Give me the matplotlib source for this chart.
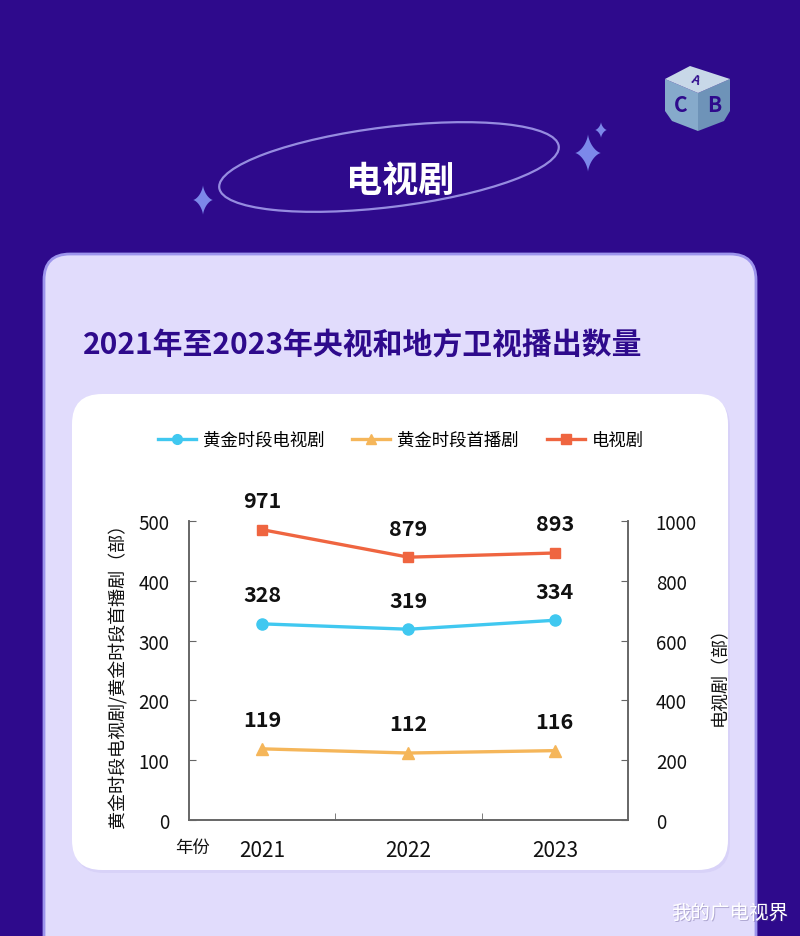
import numpy as np
import matplotlib
matplotlib.use("Agg")
import matplotlib.pyplot as plt
from matplotlib.patches import FancyBboxPatch, Ellipse, Polygon
from matplotlib.lines import Line2D

plt.rcParams["font.family"] = ["Noto Sans CJK SC", "DejaVu Sans"]

# data
years = ["2021", "2022", "2023"]
prime_tv = [328, 319, 334]
prime_premiere = [119, 112, 116]
tv_total = [971, 879, 893]

series_names = ["黄金时段电视剧", "黄金时段首播剧", "电视剧"]
left_ticks = [0, 100, 200, 300, 400, 500]
right_ticks = [0, 200, 400, 600, 800, 1000]

BG = "#2E0A8C"
CARD = "#E1DCFC"
CYAN = "#40C8F0"
GOLD = "#F5B65A"
RED = "#EF6540"

W, H = 800, 937
fig = plt.figure(figsize=(W / 100, H / 100), dpi=100)
fig.patch.set_facecolor(BG)

# background layer in pixel coordinates (y down)
bg = fig.add_axes([0, 0, 1, 1])
bg.set_xlim(0, W)
bg.set_ylim(H, 0)
bg.axis("off")

# lavender card
bg.add_patch(FancyBboxPatch((44, 255), 712, 760, boxstyle="round,pad=0,rounding_size=26",
                            fc=CARD, ec="#9C94EC", lw=2))
# white chart card
bg.add_patch(FancyBboxPatch((74, 398), 656, 476, boxstyle="round,pad=0,rounding_size=30",
                            fc="#D3CCF6", ec="none", alpha=0.6))
bg.add_patch(FancyBboxPatch((72, 395), 656, 476, boxstyle="round,pad=0,rounding_size=30",
                            fc="white", ec="none"))

# header ellipse and sparkles
bg.add_patch(Ellipse((389, 168), 342, 80, angle=-7, fill=False, ec="#A9A4F0", lw=1.6, alpha=0.85))
bg.text(400, 181, "电视剧", color="white", fontsize=26, fontweight="bold", ha="center", va="center")


def sparkle(cx, cy, ry, rx):
    # four pointed star with pinched sides
    t = np.linspace(0, 2 * np.pi, 200)
    px = cx + rx * np.sign(np.cos(t)) * np.abs(np.cos(t)) ** 3
    py = cy + ry * np.sign(np.sin(t)) * np.abs(np.sin(t)) ** 3
    bg.add_patch(Polygon(np.column_stack([px, py]), closed=True, fc="#7C88EA", ec="none"))


sparkle(203, 201, 15, 10)
sparkle(588, 154, 19, 13)
sparkle(601, 131, 8, 6)

# logo (rough block shape)
bg.add_patch(Polygon([(665, 80), (698, 94), (698, 132), (672, 122), (665, 112)], fc="#86AACB", ec="none"))
bg.add_patch(Polygon([(698, 94), (730, 80), (730, 112), (724, 122), (698, 132)], fc="#6E93B8", ec="none"))
bg.add_patch(Polygon([(665, 80), (690, 67), (730, 80), (698, 94)], fc="#C8D8E8", ec="none"))
bg.text(681, 106, "C", color=BG, fontsize=15, fontweight="bold", ha="center", va="center")
bg.text(714, 106, "B", color=BG, fontsize=15, fontweight="bold", ha="center", va="center")
bg.text(695, 80, "A", color=BG, fontsize=9, fontweight="bold", ha="center", va="center", rotation=-20)

# chart title
bg.text(83, 346, "2021年至2023年央视和地方卫视播出数量", color=BG, fontsize=21.5,
        fontweight="bold", ha="left", va="center")

# watermark
bg.text(731, 914, "我的广电视界", color="#5A4E8A", fontsize=14, ha="center", va="center", alpha=0.35)
bg.text(730, 913, "我的广电视界", color="white", fontsize=14, ha="center", va="center")

# chart axes
x0, x1, y_top, y_bot = 189, 628, 522, 821
ax = fig.add_axes([x0 / W, (H - y_bot) / H, (x1 - x0) / W, (y_bot - y_top) / H])
ax.set_facecolor("none")
ax2 = ax.twinx()

x = np.arange(len(years))
ax.plot(x, prime_tv, color=CYAN, lw=2.4, marker="o", ms=8, zorder=3)
ax.plot(x, prime_premiere, color=GOLD, lw=2.4, marker="^", ms=8, zorder=3)
ax2.plot(x, tv_total, color=RED, lw=2.4, marker="s", ms=7.5, zorder=3)

for xi, v in zip(x, prime_tv):
    ax.annotate(str(v), (xi, v), xytext=(0, 21), textcoords="offset points",
                ha="center", va="center", fontsize=15.5, fontweight="bold", color="#111111")
for xi, v in zip(x, prime_premiere):
    ax.annotate(str(v), (xi, v), xytext=(0, 21), textcoords="offset points",
                ha="center", va="center", fontsize=15.5, fontweight="bold", color="#111111")
for xi, v in zip(x, tv_total):
    ax2.annotate(str(v), (xi, v), xytext=(0, 21), textcoords="offset points",
                 ha="center", va="center", fontsize=15.5, fontweight="bold", color="#111111")

ax.set_xlim(-0.5, 2.5)
ax.set_ylim(0, 500)
ax2.set_ylim(0, 1000)
ax.set_yticks(left_ticks)
ax2.set_yticks(right_ticks)
ax.set_xticks(x)
ax.set_xticklabels(years, fontsize=15, color="#111111")
ax.set_xticks([0.5, 1.5], minor=True)
ax.tick_params(axis="x", which="major", length=0, pad=14)
ax.tick_params(axis="x", which="minor", length=5, direction="in", color="#666666")
ax.tick_params(axis="y", length=5, direction="in", color="#666666", labelsize=13.5,
               labelcolor="#111111", pad=14)
ax2.tick_params(axis="y", length=5, direction="in", color="#666666", labelsize=13.5,
                labelcolor="#111111", pad=20)

for a in (ax, ax2):
    a.spines["top"].set_visible(False)
    for s in ("left", "right", "bottom"):
        a.spines[s].set_color("#666666")
        a.spines[s].set_linewidth(1.2)

ax.set_ylabel("黄金时段电视剧/黄金时段首播剧（部）", fontsize=13, color="#111111", labelpad=8)
ax2.set_ylabel("电视剧（部）", fontsize=13, color="#111111", labelpad=10)
bg.text(193, 848, "年份", fontsize=12.5, color="#111111", ha="center", va="center")

handles = [
    Line2D([], [], color=CYAN, lw=2.4, marker="o", ms=7),
    Line2D([], [], color=GOLD, lw=2.4, marker="^", ms=7),
    Line2D([], [], color=RED, lw=2.4, marker="s", ms=7),
]
fig.legend(handles, series_names, loc="center", bbox_to_anchor=(0.501, (H - 441) / H),
           ncol=3, frameon=False, fontsize=12.5, handlelength=2.2, handletextpad=0.4,
           columnspacing=1.6)

fig.savefig("out.png", dpi=100, facecolor=BG)
